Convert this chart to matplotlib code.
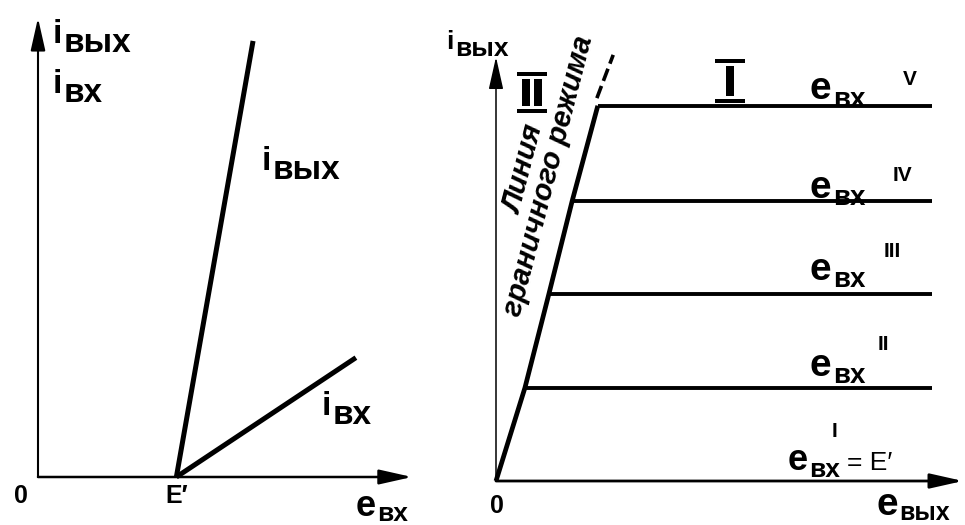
import matplotlib.pyplot as plt
from matplotlib.patches import Rectangle

plt.rcParams['font.family'] = ['Liberation Sans', 'DejaVu Sans']

# Left diagram: input/output currents vs input e.m.f.
e_thr = 3.7                      # E'
i_out_e = [e_thr, 5.75]
i_out_i = [0.0, 9.5]
i_in_e = [e_thr, 8.5]
i_in_i = [0.0, 2.6]

# Right diagram: output characteristics
levels = [2.2, 4.4, 6.6, 8.85]           # e_вх II ... V
level_marks = ['II', 'III', 'IV', 'V']
bound_e = [0.0, 0.62, 1.13, 1.63, 2.18]  # boundary-mode line
bound_i = [0.0, 2.2, 4.4, 6.6, 8.85]
bound_ext_e = [2.16, 2.51]
bound_ext_i = [9.03, 10.05]
e_out_max = 9.34

W, H = 965, 525
fig = plt.figure(figsize=(W / 100, H / 100), dpi=100)


def box_axes(x0, x1, ytop, ybot):
    # axes whose 0..10 data range spans the given pixel box
    ax = fig.add_axes([x0 / W, (H - ybot) / H, (x1 - x0) / W, (ybot - ytop) / H])
    ax.set_xlim(0, 10)
    ax.set_ylim(0, 10)
    ax.set_axis_off()
    return ax


def arrow(ax, start, end, lw):
    ax.annotate('', xy=end, xytext=start,
                arrowprops=dict(arrowstyle='-|>,head_length=2.0,head_width=0.45',
                                mutation_scale=10, lw=lw, color='black',
                                shrinkA=0, shrinkB=0),
                annotation_clip=False)


def sub_label(ax, x, y, base, sub, size, sub_size, dx=1, dy=-1.5, weight='bold'):
    t = ax.text(x, y, base, fontsize=size, fontweight=weight, va='baseline', ha='left')
    s = ax.annotate(sub, xy=(1, 0), xycoords=t, xytext=(dx, dy),
                    textcoords='offset points', fontsize=sub_size,
                    fontweight=weight, va='baseline', ha='left')
    return t, s


def roman(ax, n, xc, y0, y1, bar_w=0.64, bar_h=0.09, stem_w=0.16, gap=0.09, pad=0.07):
    # roman numeral with bars above and below
    for yb in (y0, y1 - bar_h):
        ax.add_patch(Rectangle((xc - bar_w / 2, yb), bar_w, bar_h, fc='black', lw=0, clip_on=False))
    total = n * stem_w + (n - 1) * gap
    for k in range(n):
        sx = xc - total / 2 + k * (stem_w + gap)
        ax.add_patch(Rectangle((sx, y0 + bar_h + pad), stem_w, y1 - y0 - 2 * (bar_h + pad),
                               fc='black', lw=0, clip_on=False))


# ---------------- left ----------------
axl = box_axes(38, 412, 18, 477)
arrow(axl, (0, 0), (0, 10), 1.5)
arrow(axl, (0, 0), (10, 0), 1.8)
axl.plot(i_out_e, i_out_i, color='black', lw=3.6, solid_capstyle='butt', clip_on=False)
axl.plot(i_in_e, i_in_i, color='black', lw=3.6, solid_capstyle='butt', clip_on=False)

sub_label(axl, 0.40, 9.46, 'i', 'вых', 24, 24)
sub_label(axl, 0.40, 8.37, 'i', 'вх', 24, 24)
sub_label(axl, 5.99, 6.69, 'i', 'вых', 24, 24)
sub_label(axl, 7.59, 1.35, 'i', 'вх', 24, 24)
axl.text(-0.45, -0.57, '0', fontsize=18, fontweight='bold', ha='center', va='baseline')
axl.text(e_thr, -0.57, 'E′', fontsize=18, fontweight='bold', ha='center', va='baseline')
sub_label(axl, 8.48, -0.84, 'e', 'вх', 26, 19, dy=1.5)

# ---------------- right ----------------
axr = box_axes(496, 963, 57, 481)
arrow(axr, (0, 0), (0, 10), 1.1)
arrow(axr, (0, 0), (10, 0), 2.0)
axr.plot(bound_e, bound_i, color='black', lw=3.4, solid_capstyle='butt', clip_on=False)
axr.plot(bound_ext_e, bound_ext_i, color='black', lw=2.6, ls=(0, (3.6, 1.5)), clip_on=False)
for k, lvl in enumerate(levels):
    axr.plot([bound_e[k + 1], e_out_max], [lvl, lvl], color='black', lw=2.8,
             solid_capstyle='butt', clip_on=False)

sub_label(axr, -1.07, 10.19, 'i', 'вых', 19, 19)
axr.text(0.02, -0.75, '0', fontsize=18, fontweight='bold', ha='center', va='baseline')
sub_label(axr, 8.14, -0.80, 'e', 'вых', 28, 18, dy=2)

# e_вх labels above each line
lab_y = [2.48, 4.74, 6.67, 9.0]
sup_pos = [(8.18, 3.09), (8.31, 5.28), (8.50, 7.07), (8.72, 9.34)]
for yb, mark, (sx, sy) in zip(lab_y, level_marks, sup_pos):
    sub_label(axr, 6.72, yb, 'e', 'вх', 28, 20, dy=0.5)
    axr.text(sx, sy, mark, fontsize=15, fontweight='bold', va='baseline', ha='left')

sub_label(axr, 6.25, 0.26, 'e', 'вх', 26, 19, dy=0.5)
axr.text(7.19, 1.04, 'I', fontsize=15, fontweight='bold', va='baseline', ha='left')
axr.text(7.52, 0.26, '= E′', fontsize=19, va='baseline', ha='left')

roman(axr, 2, 0.77, 8.68, 9.65)
roman(axr, 1, 5.01, 8.92, 9.95, stem_w=0.18)

axr.text(0.87, 7.28, 'Линия\nграничного режима', fontsize=21, style='italic',
         fontweight='bold', rotation=75.5, rotation_mode='anchor', ha='center',
         va='center', multialignment='center', linespacing=0.85)

fig.savefig('out.png', dpi=100)
